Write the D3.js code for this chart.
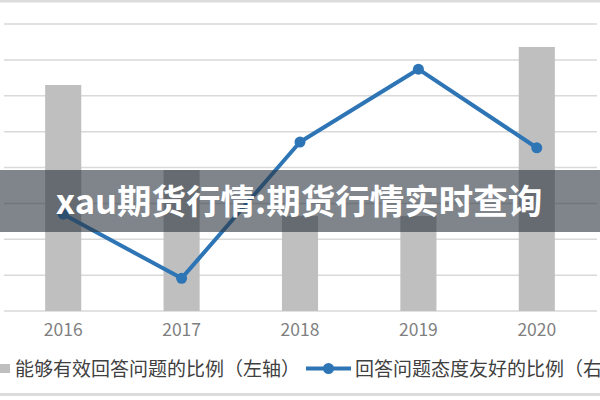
<!DOCTYPE html>
<html>
<head>
<meta charset="utf-8">
<script src="https://cdn.jsdelivr.net/npm/d3@7"></script>
<style>
  body { margin: 0; background: #fff; }
  #graf { width: 600px; height: 400px; }
</style>
</head>
<body>
<div id="graf"></div>
<script>
// I. Datos
anos = ['2016', '2017', '2018', '2019', '2020']
efectivo = [63, 39.3, 26.5, 26.5, 73.6]     // barras, eje izquierdo
amable = [27, 9.1, 47.1, 67.4, 45.5]        // linea, eje derecho
ticksY = [0, 10, 20, 30, 40, 50, 60, 70, 80]
leyenda = ['能够有效回答问题的比例（左轴）', '回答问题态度友好的比例（右轴）']
titulo = 'xau期货行情:期货行情实时查询'

// II. Configuración
ancho_total = 600
alto_total = 400

svg = d3.select('#graf').append('svg')
        .attr('width', ancho_total)
        .attr('height', alto_total)
        .style('font-family', '"Noto Sans CJK SC", "Noto Sans", sans-serif')

svg.append('rect')
   .attr('width', ancho_total).attr('height', alto_total)
   .attr('fill', '#fff')

x = d3.scaleBand()
      .domain(anos)
      .range([4, 596])
      .paddingInner(0.695)
      .paddingOuter(0.3475)

y = d3.scaleLinear().domain([0, 80]).range([311, 24])
y2 = d3.scaleLinear().domain([0, 80]).range([311, 24])

// bordes arriba y abajo
svg.append('rect').attr('x', 0).attr('y', 0).attr('width', 600).attr('height', 2.5).attr('fill', '#dcdcdc')
svg.append('rect').attr('x', 0).attr('y', 393).attr('width', 600).attr('height', 3).attr('fill', '#dcdcdc')

// III. Rejilla
svg.append('g')
   .selectAll('line')
   .data(ticksY)
   .enter()
   .append('line')
   .attr('x1', 4).attr('x2', 597)
   .attr('y1', d => y(d)).attr('y2', d => y(d))
   .attr('stroke', '#d9d9d9')
   .attr('stroke-width', 1.5)

// IV. Barras
svg.append('g')
   .selectAll('rect')
   .data(efectivo)
   .enter()
   .append('rect')
   .attr('x', (d, i) => x(anos[i]))
   .attr('width', x.bandwidth())
   .attr('y', d => y(d))
   .attr('height', d => y(0) - y(d))
   .attr('fill', '#bfbfbf')

// V. Linea
cx = (d, i) => x(anos[i]) + x.bandwidth() / 2
linea = d3.line().x(cx).y(d => y2(d))

svg.append('path')
   .datum(amable)
   .attr('d', linea)
   .attr('fill', 'none')
   .attr('stroke', '#2e75b6')
   .attr('stroke-width', 4)
   .attr('stroke-linejoin', 'round')

svg.append('g')
   .selectAll('circle')
   .data(amable)
   .enter()
   .append('circle')
   .attr('cx', cx)
   .attr('cy', d => y2(d))
   .attr('r', 5.5)
   .attr('fill', '#2e75b6')

// eje x
ejeX = svg.append('g')
          .attr('transform', 'translate(0, 311)')
          .call(d3.axisBottom(x).tickSize(0).tickPadding(13))
ejeX.select('.domain').remove()
ejeX.selectAll('text')
    .style('font-size', '17.5px')
    .style('font-family', '"Noto Sans CJK SC", sans-serif')
    .attr('fill', '#7f7f7f')

// VI. Leyenda (el texto de la derecha queda cortado como en el original)
ley = svg.append('g').style('font-size', '19px').attr('fill', '#404040')
ley.append('rect').attr('x', 0).attr('y', 364).attr('width', 10).attr('height', 9).attr('fill', '#bfbfbf')
ley.append('text').attr('x', 15).attr('y', 369).attr('dy', '0.35em').text(leyenda[0])
ley.append('line').attr('x1', 306).attr('x2', 351).attr('y1', 368.5).attr('y2', 368.5)
   .attr('stroke', '#2e75b6').attr('stroke-width', 4)
ley.append('circle').attr('cx', 328.5).attr('cy', 368.5).attr('r', 5.5).attr('fill', '#2e75b6')
ley.append('text').attr('x', 355).attr('y', 369).attr('dy', '0.35em').text(leyenda[1])

// VII. Banda del titulo
svg.append('rect')
   .attr('x', 0).attr('y', 170)
   .attr('width', 600).attr('height', 62)
   .attr('fill', 'rgb(43, 51, 63)')
   .attr('fill-opacity', 0.6)

svg.append('text')
   .attr('x', 299).attr('y', 202)
   .attr('dy', '0.35em')
   .attr('text-anchor', 'middle')
   .attr('fill', '#fff')
   .style('font-size', '34.5px')
   .style('font-weight', 'bold')
   .text(titulo)
</script>
</body>
</html>
